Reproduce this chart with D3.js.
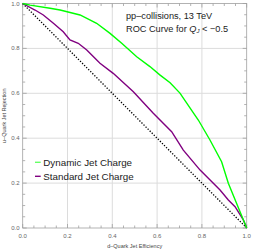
<!DOCTYPE html>
<html>
<head>
<meta charset="utf-8">
<script src="https://cdn.jsdelivr.net/npm/d3@7"></script>
<style>
  body { margin: 0; background: #fff; }
  text { font-family: "Liberation Sans", Arial, sans-serif; }
</style>
</head>
<body>
<div id="chart"></div>
<script>
// ROC curves
var dynamicX = [0, 0.033, 0.122, 0.167, 0.256, 0.330, 0.390, 0.442, 0.509, 0.568, 0.612, 0.658, 0.702, 0.784, 0.836, 0.888, 0.918, 1.0];
var dynamicY = [1.0, 0.993, 0.979, 0.971, 0.949, 0.912, 0.867, 0.823, 0.763, 0.719, 0.682, 0.647, 0.601, 0.481, 0.392, 0.295, 0.199, 0.0];
var standardX = [0, 0.055, 0.092, 0.137, 0.181, 0.211, 0.248, 0.286, 0.345, 0.404, 0.494, 0.583, 0.665, 0.717, 0.792, 0.881, 0.918, 0.948, 0.985, 1.0];
var standardY = [1.0, 0.971, 0.949, 0.912, 0.874, 0.838, 0.823, 0.793, 0.734, 0.689, 0.607, 0.511, 0.429, 0.347, 0.258, 0.169, 0.125, 0.095, 0.036, 0.0];
var chanceX = [0, 1];
var chanceY = [1, 0];
var tickValues = [0, 0.2, 0.4, 0.6, 0.8, 1.0];
var seriesNames = ["Dynamic Jet Charge", "Standard Jet Charge"];

var width = 253, height = 250;
var x = d3.scaleLinear().domain([0, 1]).range([22.7, 246.7]);
var y = d3.scaleLinear().domain([0, 1]).range([228, 3.5]);

var svg = d3.select("#chart").append("svg")
  .attr("width", width)
  .attr("height", height);

// grid
svg.selectAll("line.gx").data([0.2, 0.4, 0.6, 0.8]).enter().append("line")
  .attr("x1", function(d){ return x(d); }).attr("x2", function(d){ return x(d); })
  .attr("y1", y(0)).attr("y2", y(1))
  .style("stroke", "#dcdcdc").style("stroke-width", 1);
svg.selectAll("line.gy").data([0.2, 0.4, 0.6, 0.8]).enter().append("line")
  .attr("y1", function(d){ return y(d); }).attr("y2", function(d){ return y(d); })
  .attr("x1", x(0)).attr("x2", x(1))
  .style("stroke", "#dcdcdc").style("stroke-width", 1);

// frame
svg.append("rect")
  .attr("x", x(0)).attr("y", y(1))
  .attr("width", x(1) - x(0)).attr("height", y(0) - y(1))
  .style("fill", "none").style("stroke", "#a0a0a0").style("stroke-width", 0.8);

// ticks pointing inward
var minor = d3.range(0, 1.0001, 0.05);
function tlen(d) { return Math.abs(Math.round(d * 20) % 4) === 0 ? 4 : 2.5; }
minor.forEach(function(d) {
  var L = tlen(d);
  svg.append("line").attr("x1", x(d)).attr("x2", x(d)).attr("y1", y(0)).attr("y2", y(0) - L)
    .style("stroke", "#a0a0a0").style("stroke-width", 0.8);
  svg.append("line").attr("x1", x(d)).attr("x2", x(d)).attr("y1", y(1)).attr("y2", y(1) + L)
    .style("stroke", "#a0a0a0").style("stroke-width", 0.8);
  svg.append("line").attr("y1", y(d)).attr("y2", y(d)).attr("x1", x(0)).attr("x2", x(0) + L)
    .style("stroke", "#a0a0a0").style("stroke-width", 0.8);
  svg.append("line").attr("y1", y(d)).attr("y2", y(d)).attr("x1", x(1)).attr("x2", x(1) - L)
    .style("stroke", "#a0a0a0").style("stroke-width", 0.8);
});

// tick labels
svg.selectAll("text.xt").data(tickValues).enter().append("text")
  .attr("x", function(d){ return x(d); }).attr("y", 238)
  .attr("text-anchor", "middle")
  .style("font-size", "6px").style("fill", "#666")
  .text(function(d){ return d3.format(".1f")(d); });
svg.selectAll("text.yt").data(tickValues).enter().append("text")
  .attr("x", 19.5).attr("y", function(d){ return y(d) + 2; })
  .attr("text-anchor", "end")
  .style("font-size", "6px").style("fill", "#666")
  .text(function(d){ return d3.format(".1f")(d); });

// axis labels
svg.append("text").attr("x", x(0.5)).attr("y", 248)
  .attr("text-anchor", "middle").style("font-size", "5.5px").style("fill", "#444")
  .text("d\u2013Quark Jet Efficiency");
svg.append("text").attr("transform", "translate(6," + y(0.5) + ") rotate(-90)")
  .attr("text-anchor", "middle").style("font-size", "5.5px").style("fill", "#444")
  .text("u\u2013Quark Jet Rejection");

// curves
var line = d3.line().x(function(d){ return x(d[0]); }).y(function(d){ return y(d[1]); });
svg.append("path").datum(d3.zip(chanceX, chanceY)).attr("d", line)
  .style("fill", "none").style("stroke", "#000").style("stroke-width", 1.3)
  .style("stroke-dasharray", "1.3,1.6");
svg.append("path").datum(d3.zip(standardX, standardY)).attr("d", line)
  .style("fill", "none").style("stroke", "#800080").style("stroke-width", 1.4);
svg.append("path").datum(d3.zip(dynamicX, dynamicY)).attr("d", line)
  .style("fill", "none").style("stroke", "#00ff00").style("stroke-width", 1.4);

// title text
svg.append("text").attr("x", 126).attr("y", 18.5)
  .style("font-size", "9.2px").style("fill", "#222")
  .text("pp\u2013collisions, 13 TeV");
var t2 = svg.append("text").attr("x", 126).attr("y", 31.5)
  .style("font-size", "9.2px").style("fill", "#222");
t2.append("tspan").text("ROC Curve for ");
t2.append("tspan").style("font-style", "italic").text("Q");
t2.append("tspan").style("font-style", "italic").style("font-size", "6px").attr("dy", 1.5).text("J");
t2.append("tspan").attr("dy", -1.5).text(" < \u22120.5");

// legend
var colors = ["#66ff66", "#800080"];
seriesNames.forEach(function(name, i) {
  var ly = 162.3 + i * 14;
  svg.append("line").attr("x1", 35).attr("x2", 40.7).attr("y1", ly).attr("y2", ly)
    .style("stroke", colors[i]).style("stroke-width", 1.4);
  svg.append("text").attr("x", 43.3).attr("y", ly + 3.5)
    .style("font-size", "9.8px").style("fill", "#222").text(name);
});
</script>
</body>
</html>
